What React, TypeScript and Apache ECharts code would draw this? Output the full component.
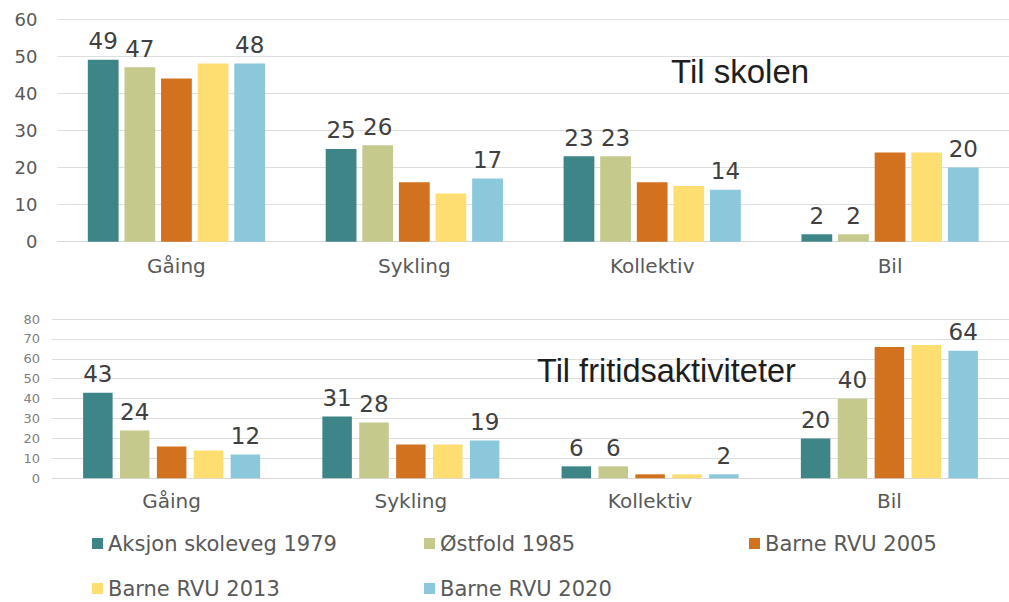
import React, { useEffect, useRef } from "react";
import * as echarts from "echarts";

const categories = ["Gåing", "Sykling", "Kollektiv", "Bil"];
const seriesNames = [
  "Aksjon skoleveg 1979",
  "Østfold 1985",
  "Barne RVU 2005",
  "Barne RVU 2013",
  "Barne RVU 2020",
];
const colors = ["#3e8588", "#c5ca8c", "#d3721e", "#fede70", "#8bc8db"];

// Til skolen
const skolen1979 = [49, 25, 23, 2];
const skolen1985 = [47, 26, 23, 2];
const skolen2005 = [44, 16, 16, 24];
const skolen2013 = [48, 13, 15, 24];
const skolen2020 = [48, 17, 14, 20];

// Til fritidsaktiviteter
const fritid1979 = [43, 31, 6, 20];
const fritid1985 = [24, 28, 6, 40];
const fritid2005 = [16, 17, 2, 66];
const fritid2013 = [14, 17, 2, 67];
const fritid2020 = [12, 19, 2, 64];

const titleTop = "Til skolen";
const titleBottom = "Til fritidsaktiviteter";

// which series show value labels
const labelled = [true, true, false, false, true];

const FONT = "DejaVu Sans";

export default function App() {
  const ref = useRef<HTMLDivElement>(null);

  useEffect(() => {
    if (!ref.current) return;
    const chart = echarts.init(ref.current, undefined, { renderer: "svg" });
    const top = [skolen1979, skolen1985, skolen2005, skolen2013, skolen2020];
    const bottom = [fritid1979, fritid1985, fritid2005, fritid2013, fritid2020];

    const mkSeries = (data: number[], i: number, axis: number, gapCat: string, gap: string) => ({
      type: "bar",
      name: seriesNames[i],
      xAxisIndex: axis,
      yAxisIndex: axis,
      data,
      barCategoryGap: gapCat,
      barGap: gap,
      itemStyle: { color: colors[i] },
      label: {
        show: labelled[i],
        position: "top",
        distance: 7,
        fontFamily: FONT,
        fontSize: 23,
        color: "#404040",
      },
    });

    const legendPos = [
      [92, 533],
      [424, 533],
      [749, 533],
      [92, 578],
      [424, 578],
    ];

    const gridLine = { show: true, lineStyle: { color: "#dedede", width: 1 } };

    chart.setOption({
      animation: false,
      title: [
        {
          text: titleTop,
          left: 671,
          top: 55,
          padding: 0,
          textStyle: { fontFamily: "Liberation Sans", fontSize: 33, fontWeight: "normal", color: "#1e1e1e" },
        },
        {
          text: titleBottom,
          left: 537,
          top: 354,
          padding: 0,
          textStyle: { fontFamily: "Liberation Sans", fontSize: 32.5, fontWeight: "normal", color: "#1e1e1e" },
        },
      ],
      legend: seriesNames.map((n, i) => ({
        data: [n],
        left: legendPos[i][0],
        top: legendPos[i][1],
        padding: 0,
        icon: "rect",
        itemWidth: 11,
        itemHeight: 11,
        selectedMode: false,
        textStyle: { fontFamily: FONT, fontSize: 21, color: "#595959" },
      })),
      grid: [
        { left: 57.5, top: 19, width: 956, height: 222.7 },
        { left: 52, top: 319, width: 970, height: 159.3 },
      ],
      xAxis: [
        {
          type: "category",
          gridIndex: 0,
          data: categories,
          axisTick: { show: false },
          axisLine: { lineStyle: { color: "#d9d9d9" } },
          axisLabel: { fontFamily: FONT, fontSize: 20, color: "#595959", margin: 14 },
        },
        {
          type: "category",
          gridIndex: 1,
          data: categories,
          axisTick: { show: false },
          axisLine: { lineStyle: { color: "#d9d9d9" } },
          axisLabel: { fontFamily: FONT, fontSize: 20, color: "#595959", margin: 13 },
        },
      ],
      yAxis: [
        {
          type: "value",
          gridIndex: 0,
          min: 0,
          max: 60,
          interval: 10,
          axisLine: { show: false },
          axisTick: { show: false },
          splitLine: gridLine,
          axisLabel: { fontFamily: FONT, fontSize: 18, color: "#595959", margin: 20 },
        },
        {
          type: "value",
          gridIndex: 1,
          min: 0,
          max: 80,
          interval: 10,
          axisLine: { show: false },
          axisTick: { show: false },
          splitLine: gridLine,
          axisLabel: { fontFamily: FONT, fontSize: 13, color: "#808080", margin: 12 },
        },
      ],
      series: [
        ...top.map((d, i) => mkSeries(d, i, 0, "25.5%", "19%")),
        ...bottom.map((d, i) => mkSeries(d, i, 1, "26%", "25%")),
      ],
    });

    return () => chart.dispose();
  }, []);

  return (
    <div
      ref={ref}
      style={{ position: "fixed", left: 0, top: 0, width: 1009, height: 602, background: "#ffffff" }}
    />
  );
}
